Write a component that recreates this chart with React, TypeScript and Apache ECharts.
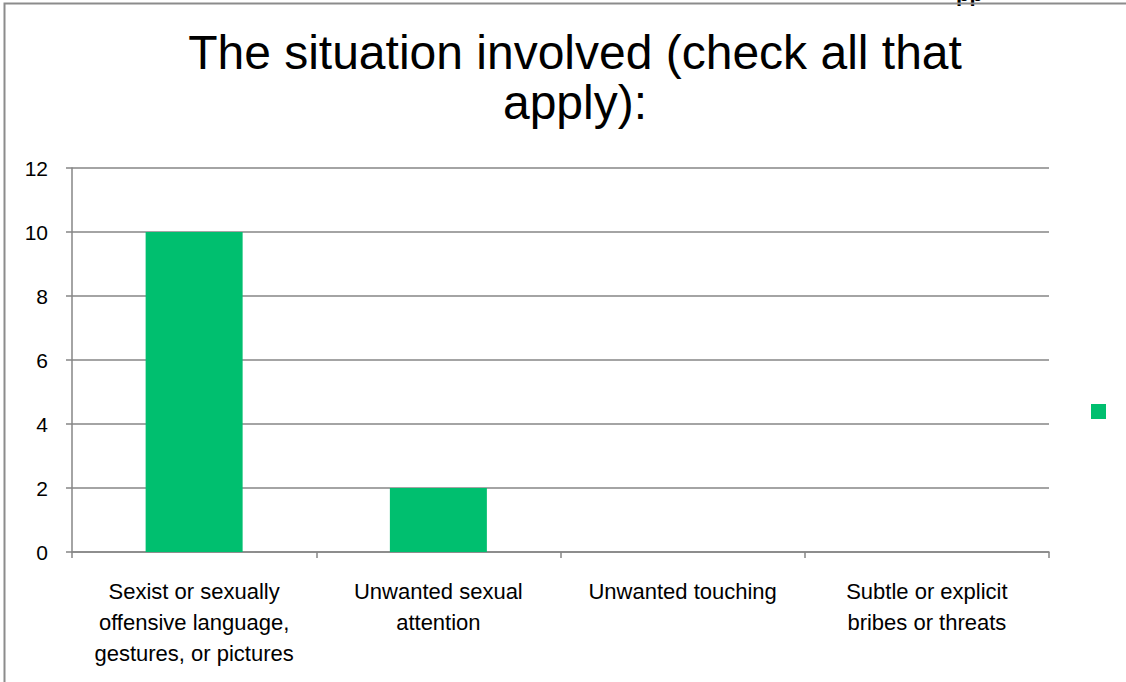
import React, { useEffect, useRef } from "react";
import * as echarts from "echarts";

const categories = [
  "Sexist or sexually\noffensive language,\ngestures, or pictures",
  "Unwanted sexual\nattention",
  "Unwanted touching",
  "Subtle or explicit\nbribes or threats",
];
const values = [10, 2, 0, 0];
const titleText = "The situation involved (check all that\napply):";

export default function App() {
  const ref = useRef<HTMLDivElement>(null);
  useEffect(() => {
    if (!ref.current) return;
    const chart = echarts.init(ref.current, null, { renderer: "svg" });
    chart.setOption({
      animation: false,
      backgroundColor: "#ffffff",
      graphic: [
        {
          type: "polyline",
          shape: { points: [[4.5, 900], [4.5, 3.5], [1400, 3.5]] },
          style: { fill: "none", stroke: "#8c8c8c", lineWidth: 2 },
          z: 100,
        },
        {
          type: "text",
          x: 956,
          y: 4,
          style: {
            text: "pp",
            fontSize: 22,
            fontWeight: "bold",
            fontFamily: "Liberation Sans",
            fill: "#000000",
            align: "left",
            verticalAlign: "bottom",
          },
        },
        {
          type: "text",
          x: 575,
          y: 27,
          style: {
            text: titleText,
            fontSize: 48,
            fontFamily: "Liberation Sans",
            fill: "#000000",
            align: "center",
            verticalAlign: "top",
            lineHeight: 50,
          },
        },
      ],
      legend: {
        show: true,
        left: 1086,
        top: 399,
        itemWidth: 15,
        itemHeight: 15,
        icon: "rect",
        formatter: () => "",
        textStyle: { fontSize: 1 },
        data: ["Series1"],
      },
      grid: { left: 72, right: 77, top: 168, bottom: 130, containLabel: false },
      xAxis: {
        type: "category",
        data: categories,
        axisLine: { lineStyle: { color: "#868686", width: 1.5 } },
        axisTick: { show: true, length: 6, alignWithLabel: false, lineStyle: { color: "#868686", width: 1.5 } },
        axisLabel: {
          interval: 0,
          color: "#000000",
          fontSize: 22,
          fontFamily: "Liberation Sans",
          lineHeight: 31,
          margin: 24,
        },
      },
      yAxis: {
        type: "value",
        min: 0,
        max: 12,
        interval: 2,
        axisLine: { show: true, lineStyle: { color: "#868686", width: 1.5 } },
        axisTick: { show: true, length: 6, lineStyle: { color: "#868686", width: 1.5 } },
        splitLine: { show: true, lineStyle: { color: "#868686", width: 1.5 } },
        axisLabel: {
          color: "#000000",
          fontSize: 21,
          fontFamily: "Liberation Sans",
          margin: 24,
        },
      },
      series: [
        {
          name: "Series1",
          type: "bar",
          data: values,
          barWidth: 97,
          itemStyle: { color: "#00bf6f" },
        },
      ],
    });
    return () => chart.dispose();
  }, []);
  return (
    <div
      ref={ref}
      style={{ position: "absolute", left: 0, top: 0, width: 1126, height: 682 }}
    />
  );
}
